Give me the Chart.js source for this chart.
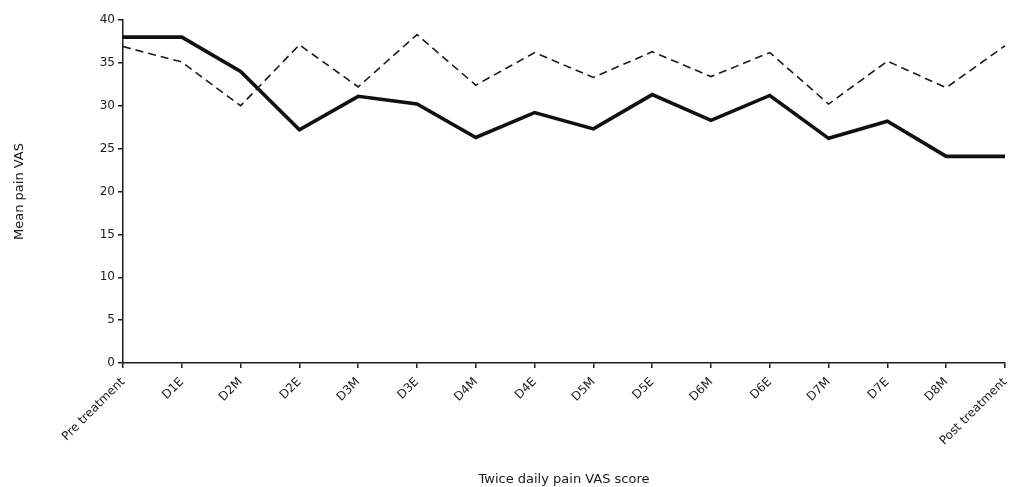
<!DOCTYPE html>
<html>
<head>
<meta charset="utf-8">
<script src="https://cdn.jsdelivr.net/npm/chart.js@4/dist/chart.umd.min.js"></script>
<style>
  html, body { margin: 0; padding: 0; background: #fff; }
  #wrap { width: 1011px; height: 487px; position: relative; }
</style>
</head>
<body>
<div id="wrap"><canvas id="c"></canvas></div>
<script>
// Données
const timepoints = ['Pre treatment', 'D1E', 'D2M', 'D2E', 'D3M', 'D3E', 'D4M', 'D4E',
                    'D5M', 'D5E', 'D6M', 'D6E', 'D7M', 'D7E', 'D8M', 'Post treatment'];
const solidSeries = [38, 38, 34, 27.2, 31.1, 30.2, 26.3, 29.2, 27.3, 31.3, 28.3, 31.2, 26.2, 28.2, 24.1, 24.1];
const dashedSeries = [36.9, 35.1, 30, 37.1, 32.2, 38.3, 32.4, 36.2, 33.3, 36.3, 33.4, 36.2, 30.2, 35.2, 32.1, 37];
const yTicks = [0, 5, 10, 15, 20, 25, 30, 35, 40];

const axisColor = '#1e1e1e';
const textColor = '#1a1a1a';
const fontFamily = '"DejaVu Sans", sans-serif';

const ctx = document.getElementById('c').getContext('2d');

new Chart(ctx, {
    type: 'line',
    data: {
        labels: timepoints,
        datasets: [
            {
                data: dashedSeries,
                borderColor: '#1a1a1a',
                borderWidth: 1.6,
                borderDash: [8, 5],
                pointRadius: 0,
                tension: 0,
                fill: false
            },
            {
                data: solidSeries,
                borderColor: '#111',
                borderWidth: 3.6,
                pointRadius: 0,
                tension: 0,
                fill: false
            }
        ]
    },
    options: {
        responsive: true,
        maintainAspectRatio: false,
        animation: false,
        layout: { padding: { top: 20, right: 6, bottom: 0, left: 0 } },
        plugins: {
            legend: { display: false },
            tooltip: { enabled: false }
        },
        scales: {
            x: {
                offset: false,
                border: { color: axisColor, width: 1.5 },
                grid: { drawOnChartArea: false, color: axisColor, tickLength: 5, lineWidth: 1.5 },
                ticks: {
                    color: textColor,
                    font: { family: fontFamily, size: 12 },
                    minRotation: 45,
                    maxRotation: 45,
                    autoSkip: false,
                    padding: 7
                },
                title: {
                    display: true,
                    text: 'Twice daily pain VAS score',
                    color: textColor,
                    font: { family: fontFamily, size: 13 },
                    padding: { top: 0, bottom: 0 }
                },
                afterFit(scale) {
                    scale.height = 124;
                    // pas de marge pour les étiquettes inclinées
                    scale.paddingLeft = 0;
                    scale.paddingRight = 0;
                }
            },
            y: {
                min: 0,
                max: 40,
                border: { color: axisColor, width: 1.5 },
                grid: { drawOnChartArea: false, color: axisColor, tickLength: 5, lineWidth: 1.5 },
                afterBuildTicks(scale) { scale.ticks = yTicks.map(v => ({ value: v })); },
                ticks: {
                    color: textColor,
                    font: { family: fontFamily, size: 12 },
                    padding: 3
                },
                title: {
                    display: true,
                    text: 'Mean pain VAS',
                    color: textColor,
                    font: { family: fontFamily, size: 13 },
                    padding: { top: 12, bottom: 0 }
                },
                afterFit(scale) { scale.width = 123; }
            }
        }
    }
});
</script>
</body>
</html>
